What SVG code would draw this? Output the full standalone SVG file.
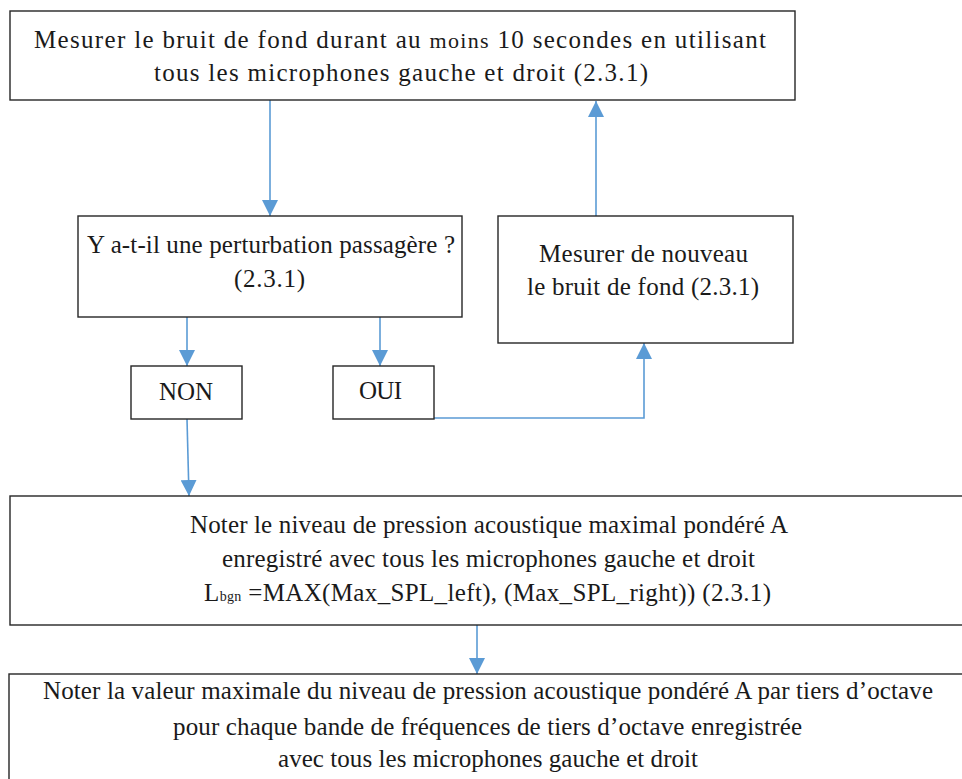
<svg xmlns="http://www.w3.org/2000/svg" width="962" height="779" viewBox="0 0 962 779">
<style>
.box{fill:#fff;stroke:#262626;stroke-width:1.4}
.t{font-family:"Liberation Serif","Times New Roman",serif;font-size:25px;fill:#1a1a1a}
.c{fill:none;stroke:#5B9BD5;stroke-width:1.6}
</style>
<defs>
<marker id="ah" markerUnits="userSpaceOnUse" markerWidth="16" markerHeight="16" viewBox="0 0 16 16" refX="16" refY="8" orient="auto">
<path d="M0,0 L16,8 L0,16 Z" fill="#5B9BD5"/>
</marker>
</defs>
<rect width="962" height="779" fill="#fff"/>
<g id="connectors">
<path class="c" d="M270,100 V216" marker-end="url(#ah)"/>
<path class="c" d="M596,216 V101" marker-end="url(#ah)"/>
<path class="c" d="M187,317 V366" marker-end="url(#ah)"/>
<path class="c" d="M380,317 V366" marker-end="url(#ah)"/>
<path class="c" d="M434,418 H644 V343" marker-end="url(#ah)"/>
<path class="c" d="M187,419 L189,496" marker-end="url(#ah)"/>
<path class="c" d="M477,625 V674" marker-end="url(#ah)"/>
</g>
<g id="n1">
<rect class="box" x="10" y="11" width="785" height="89"/>
<text class="t" x="34" y="48" textLength="732">Mesurer le bruit de fond durant au <tspan font-size="22">moins</tspan> 10 secondes en utilisant</text>
<text class="t" x="154" y="81" textLength="494">tous les microphones gauche et droit (2.3.1)</text>
</g>
<g id="n2">
<rect class="box" x="78" y="216" width="384" height="101"/>
<text class="t" x="87" y="253" textLength="368">Y a-t-il une perturbation passagère ?</text>
<text class="t" x="234" y="287" textLength="71">(2.3.1)</text>
</g>
<g id="n3">
<rect class="box" x="498" y="216" width="295" height="127"/>
<text class="t" x="539" y="262" textLength="209">Mesurer de nouveau</text>
<text class="t" x="527" y="295" textLength="232">le bruit de fond (2.3.1)</text>
</g>
<g id="non">
<rect class="box" x="131" y="366" width="111" height="53"/>
<text class="t" x="159" y="400" textLength="54">NON</text>
</g>
<g id="oui">
<rect class="box" x="333" y="366" width="101" height="53"/>
<text class="t" x="359" y="399" textLength="43">OUI</text>
</g>
<g id="n4">
<rect class="box" x="10" y="496" width="960" height="129"/>
<text class="t" x="190" y="533" textLength="598">Noter le niveau de pression acoustique maximal pondéré A</text>
<text class="t" x="222" y="567" textLength="533">enregistré avec tous les microphones gauche et droit</text>
<text class="t" x="204" y="601" textLength="567">L<tspan font-size="14">bgn</tspan> =MAX(Max_SPL_left), (Max_SPL_right)) (2.3.1)</text>
</g>
<g id="n5">
<rect class="box" x="9" y="674" width="960" height="120"/>
<text class="t" x="43" y="699" textLength="890">Noter la valeur maximale du niveau de pression acoustique pondéré A par tiers d’octave</text>
<text class="t" x="173" y="735" textLength="629">pour chaque bande de fréquences de tiers d’octave enregistrée</text>
<text class="t" x="278" y="767" textLength="420">avec tous les microphones gauche et droit</text>
</g>
</svg>
